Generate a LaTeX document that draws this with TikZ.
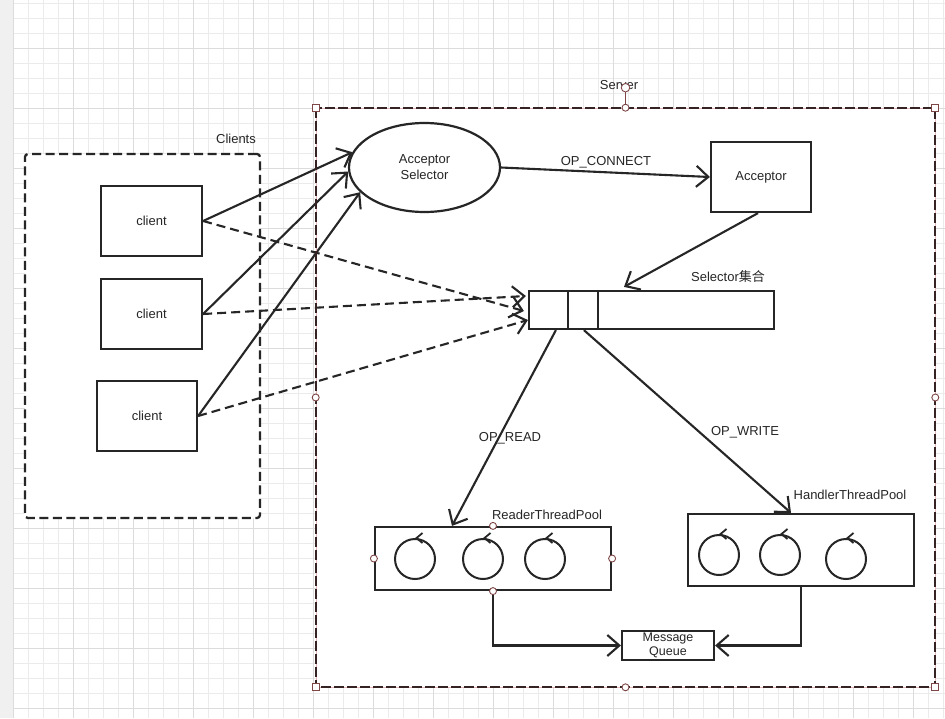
\documentclass[tikz,border=0pt]{standalone}
\usepackage{fontspec}
\setmainfont{Liberation Sans}
\newfontfamily\cjk{Noto Sans CJK SC}
\usetikzlibrary{shapes.geometric,arrows.meta}
\definecolor{ink}{HTML}{262626}
\definecolor{gridminor}{HTML}{EBEBEB}
\definecolor{gridmajor}{HTML}{DCDCDC}
\definecolor{selline}{HTML}{352222}
\definecolor{selpale}{HTML}{E6B8B8}
\definecolor{handle}{HTML}{7E4646}
\tikzset{
  lbl/.style={text=ink,font=\fontsize{13}{15}\selectfont,inner sep=0pt},
  boxnode/.style={draw=ink,line width=2.2pt,fill=white,text=ink,font=\fontsize{13}{15}\selectfont,inner sep=0pt},
  arr/.style={draw=ink,line width=2.1pt,-{Straight Barb[length=12pt,width=21pt,line width=2.1pt]}},
  dasharr/.style={arr,dash pattern=on 9pt off 5pt},
  thread/.style={draw=ink,line width=2pt,circle,minimum size=40pt,inner sep=0pt},
  hsq/.style={draw=handle,fill=white,line width=0.9pt,minimum size=7pt,inner sep=0pt},
  hci/.style={draw=handle,fill=white,line width=0.9pt,circle,minimum size=7pt,inner sep=0pt},
}
\newcommand{\chev}[1]{\draw[ink,line width=1.8pt] ([xshift=7.5pt,yshift=5pt]#1.north) -- ([xshift=1.5pt]#1.north) -- ([xshift=7.5pt,yshift=-5pt]#1.north);}
\begin{document}
\begin{tikzpicture}[x=1pt,y=-1pt]
\useasboundingbox (0,0) rectangle (945,718);
% background grid
\fill[white] (0,0) rectangle (945,718);
\foreach \gx in {0,...,62} {\draw[gridminor,line width=0.8pt] (13.3+15*\gx,0) -- (13.3+15*\gx,718);}
\foreach \gy in {0,...,47} {\draw[gridminor,line width=0.8pt] (13,3.3+15*\gy) -- (945,3.3+15*\gy);}
\foreach \gx in {0,...,15} {\draw[gridmajor,line width=0.8pt] (13.3+60*\gx,0) -- (13.3+60*\gx,718);}
\foreach \gy in {0,...,11} {\draw[gridmajor,line width=0.8pt] (13,48.3+60*\gy) -- (945,48.3+60*\gy);}
\fill[gray!12] (0,0) rectangle (13,718);
% Clients group
\node[draw=ink,fill=white,line width=2.3pt,dash pattern=on 9pt off 4.5pt,rounded corners=3pt,minimum width=235pt,minimum height=364pt,inner sep=0pt] (clients) at (142.5,336) {};
\node[lbl] (clientslbl) at (236,139) {Clients};
% Server group fill
\fill[white] (316,108) rectangle (935,687);
\node[lbl] (serverlbl) at (619,85) {Server};
% clients
\node[boxnode,minimum width=101pt,minimum height=70pt] (c1) at (151.5,221) {client};
\node[boxnode,minimum width=101pt,minimum height=70pt] (c2) at (151.5,314) {client};
\node[boxnode,minimum width=100pt,minimum height=70pt] (c3) at (147,416) {client};
% acceptor selector
\node[boxnode,ellipse,minimum width=151pt,minimum height=89pt,align=center] (as) at (424.5,167.5) {Acceptor\\[1pt]Selector};
\node[boxnode,minimum width=100pt,minimum height=70pt] (acc) at (761,177) {Acceptor};
% selector bar
\node[boxnode,minimum width=245pt,minimum height=38pt] (bar) at (651.5,310) {};
\draw[ink,line width=2.2pt] ([xshift=40pt]bar.north west) -- ([xshift=40pt]bar.south west);
\draw[ink,line width=2.2pt] ([xshift=70pt]bar.north west) -- ([xshift=70pt]bar.south west);
\node[lbl] (barlbl) at (728,277) {Selector{\cjk 集合}};
% thread pools
\node[boxnode,minimum width=236pt,minimum height=63pt] (reader) at (493,558.5) {};
\node[lbl] (readerlbl) at (547,515) {ReaderThreadPool};
\node[boxnode,minimum width=226pt,minimum height=72pt] (handler) at (801,550) {};
\node[lbl] (handlerlbl) at (850,495) {HandlerThreadPool};
\node[thread] (r1) at (415,559) {};
\node[thread] (r2) at (483,559) {};
\node[thread] (r3) at (545,559) {};
\node[thread] (h1) at (719,555) {};
\node[thread] (h2) at (780,555) {};
\node[thread] (h3) at (846,559) {};
\chev{r1}\chev{r2}\chev{r3}\chev{h1}\chev{h2}\chev{h3}
% message queue
\node[boxnode,minimum width=92pt,minimum height=29pt,align=center,font=\fontsize{12.5}{14.5}\selectfont] (mq) at (668,645.5) {Message\\Queue};
% connectors
\draw[arr] (c1.east) -- (as.168);
\draw[arr] (c2.east) -- (as.183);
\draw[arr] (c3.east) -- (as.201);
\draw[dasharr] (c1.east) -- ([xshift=-4pt,yshift=-1pt]bar.west);
\draw[dasharr] (c2.east) -- ([xshift=-2pt,yshift=14pt]bar.west);
\draw[dasharr] (c3.east) -- ([xshift=0pt,yshift=-10pt]bar.west);
\draw[arr] (as.east) -- (acc.west);
\node[lbl] (opconnect) at (606,162) {OP\_CONNECT};
\draw[arr] ([xshift=-3pt]acc.south) -- ([xshift=-27.5pt,yshift=3pt]bar.north);
\draw[arr] ([xshift=28pt]bar.south west) -- ([xshift=-41pt]reader.north);
\node[lbl] (opread) at (510,438) {OP\_READ};
\draw[arr] ([xshift=56pt]bar.south west) -- ([xshift=-10pt]handler.north);
\node[lbl] (opwrite) at (745,432) {OP\_WRITE};
\draw[arr] (reader.south) |- (mq.west);
\draw[arr] (handler.south) |- (mq.east);
% reader hover handles
\node[hci] (rh1) at (reader.north) {};
\node[hci] (rh2) at (reader.south) {};
\node[hci] (rh3) at (reader.west) {};
\node[hci] (rh4) at (reader.east) {};
% server border with selection handles
\node[draw=selpale,line width=0.6pt,minimum width=619pt,minimum height=579pt,inner sep=0pt] (server) at (625.5,397.5) {};
\draw[selline,line width=1.9pt,dash pattern=on 10pt off 3pt] (server.north west) rectangle (server.south east);
\draw[handle,line width=0.9pt] (server.north) -- ([yshift=20pt]server.north);
\node[hci,minimum size=8.5pt] (rot) at ([yshift=20pt]server.north) {};
\node[hsq] (s1) at (server.north west) {};
\node[hsq] (s2) at (server.north east) {};
\node[hsq] (s3) at (server.south west) {};
\node[hsq] (s4) at (server.south east) {};
\node[hci] (s5) at (server.north) {};
\node[hci] (s6) at (server.south) {};
\node[hci] (s7) at (server.west) {};
\node[hci] (s8) at (server.east) {};
\end{tikzpicture}
\end{document}
